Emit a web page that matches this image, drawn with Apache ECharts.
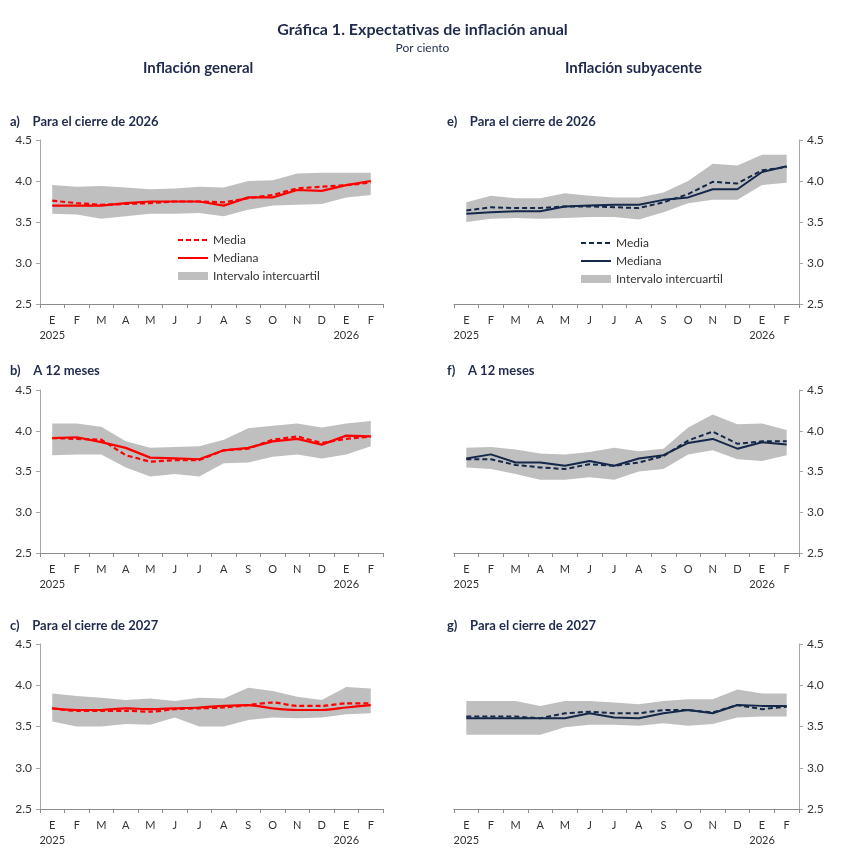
<!DOCTYPE html>
<html>
<head>
<meta charset="utf-8">
<script src="https://cdn.jsdelivr.net/npm/echarts@6/dist/echarts.min.js"></script>
<style>
  html, body { margin: 0; padding: 0; background: #fff; }
  #chart { width: 845px; height: 849px; }
</style>
</head>
<body>
<div id="chart"></div>
<script>
// meses y años del eje x
var months = ['E', 'F', 'M', 'A', 'M', 'J', 'J', 'A', 'S', 'O', 'N', 'D', 'E', 'F'];
var years = ['2025', '', '', '', '', '', '', '', '', '', '', '', '2026', ''];
var yTicks = [2.5, 3.0, 3.5, 4.0, 4.5];

// a) general, cierre de 2026
var aMedia   = [3.76, 3.73, 3.71, 3.72, 3.73, 3.75, 3.75, 3.74, 3.79, 3.83, 3.91, 3.93, 3.95, 3.98];
var aMediana = [3.70, 3.70, 3.70, 3.73, 3.75, 3.75, 3.75, 3.70, 3.80, 3.80, 3.89, 3.88, 3.95, 4.00];
var aLow     = [3.60, 3.59, 3.54, 3.57, 3.60, 3.60, 3.61, 3.57, 3.65, 3.70, 3.71, 3.72, 3.80, 3.83];
var aHigh    = [3.95, 3.93, 3.94, 3.92, 3.90, 3.91, 3.93, 3.92, 4.00, 4.01, 4.09, 4.10, 4.10, 4.10];

// b) general, a 12 meses
var bMedia   = [3.91, 3.90, 3.89, 3.70, 3.62, 3.64, 3.64, 3.76, 3.78, 3.89, 3.93, 3.85, 3.90, 3.93];
var bMediana = [3.91, 3.92, 3.86, 3.79, 3.67, 3.66, 3.65, 3.76, 3.79, 3.87, 3.90, 3.83, 3.94, 3.93];
var bLow     = [3.70, 3.71, 3.71, 3.55, 3.44, 3.47, 3.44, 3.60, 3.61, 3.68, 3.71, 3.66, 3.71, 3.81];
var bHigh    = [4.09, 4.09, 4.05, 3.87, 3.79, 3.80, 3.81, 3.89, 4.03, 4.06, 4.09, 4.04, 4.09, 4.12];

// c) general, cierre de 2027
var cMedia   = [3.72, 3.69, 3.69, 3.69, 3.68, 3.71, 3.72, 3.73, 3.76, 3.79, 3.75, 3.75, 3.78, 3.78];
var cMediana = [3.72, 3.70, 3.70, 3.72, 3.71, 3.72, 3.73, 3.75, 3.76, 3.72, 3.70, 3.70, 3.73, 3.76];
var cLow     = [3.56, 3.50, 3.50, 3.53, 3.52, 3.61, 3.50, 3.50, 3.58, 3.61, 3.60, 3.61, 3.65, 3.66];
var cHigh    = [3.90, 3.87, 3.85, 3.82, 3.84, 3.81, 3.85, 3.84, 3.97, 3.93, 3.86, 3.82, 3.98, 3.96];

// e) subyacente, cierre de 2026
var eMedia   = [3.64, 3.68, 3.67, 3.67, 3.69, 3.69, 3.68, 3.67, 3.74, 3.84, 3.99, 3.97, 4.13, 4.17];
var eMediana = [3.60, 3.62, 3.63, 3.63, 3.69, 3.70, 3.71, 3.71, 3.77, 3.80, 3.90, 3.90, 4.11, 4.18];
var eLow     = [3.50, 3.54, 3.55, 3.54, 3.55, 3.56, 3.56, 3.53, 3.62, 3.73, 3.77, 3.77, 3.95, 3.98];
var eHigh    = [3.74, 3.82, 3.79, 3.79, 3.85, 3.82, 3.80, 3.80, 3.86, 4.00, 4.21, 4.19, 4.32, 4.32];

// f) subyacente, a 12 meses
var fMedia   = [3.65, 3.65, 3.58, 3.55, 3.53, 3.59, 3.57, 3.61, 3.69, 3.88, 3.99, 3.84, 3.87, 3.87];
var fMediana = [3.66, 3.71, 3.61, 3.61, 3.57, 3.63, 3.57, 3.66, 3.70, 3.85, 3.90, 3.78, 3.86, 3.83];
var fLow     = [3.55, 3.53, 3.47, 3.40, 3.40, 3.43, 3.40, 3.50, 3.53, 3.71, 3.76, 3.65, 3.63, 3.70];
var fHigh    = [3.79, 3.80, 3.77, 3.72, 3.71, 3.74, 3.79, 3.75, 3.78, 4.04, 4.20, 4.08, 4.09, 4.01];

// g) subyacente, cierre de 2027
var gMedia   = [3.62, 3.62, 3.62, 3.60, 3.66, 3.68, 3.66, 3.66, 3.70, 3.70, 3.67, 3.76, 3.71, 3.74];
var gMediana = [3.60, 3.60, 3.60, 3.60, 3.60, 3.66, 3.61, 3.60, 3.66, 3.70, 3.66, 3.76, 3.75, 3.75];
var gLow     = [3.40, 3.40, 3.40, 3.40, 3.49, 3.52, 3.52, 3.51, 3.54, 3.51, 3.53, 3.61, 3.62, 3.62];
var gHigh    = [3.81, 3.81, 3.81, 3.75, 3.81, 3.81, 3.79, 3.77, 3.81, 3.83, 3.83, 3.95, 3.90, 3.90];

var RED = '#FF0000';
var NAVY = '#13284A';
var BAND = '#BFBFBF';
var TXT = '#1F2B4D';
var FONT = 'Lato, "Noto Sans", sans-serif';

var grids = [], xAxes = [], yAxes = [], series = [];

function panel(key, side, top, height, color, media, mediana, low, high, smooth) {
    var i = grids.length;
    grids.push({
        left: side == 'left' ? 40 : 454,
        width: side == 'left' ? 343 : 345,
        top: top,
        height: height
    });
    xAxes.push({
        type: 'category',
        gridIndex: i,
        data: months.map(function (m, k) { return m + k; }),
        boundaryGap: true,
        axisLine: { lineStyle: { color: '#8C8C8C', width: 1 } },
        axisTick: { show: true, interval: 0, length: 4, lineStyle: { color: '#8C8C8C' } },
        axisLabel: {
            interval: 0,
            margin: 9,
            fontFamily: FONT,
            fontSize: 11,
            lineHeight: 15,
            color: '#333',
            formatter: function (v, k) {
                return months[k] + (years[k] ? '\n' + years[k] : '');
            }
        },
        splitLine: { show: false }
    });
    yAxes.push({
        type: 'value',
        gridIndex: i,
        position: side,
        min: yTicks[0],
        max: yTicks[yTicks.length - 1],
        interval: 0.5,
        axisLine: { show: true, lineStyle: { color: '#A6A6A6' } },
        axisTick: { show: true, length: 4, lineStyle: { color: '#A6A6A6' } },
        axisLabel: {
            margin: 8,
            fontFamily: FONT,
            fontSize: 12,
            color: '#333',
            formatter: function (v) { return v.toFixed(1); }
        },
        splitLine: { show: false }
    });
    var width = color == RED ? 2.2 : 2;
    series.push({
        name: 'base (' + key + ')',
        type: 'line',
        xAxisIndex: i, yAxisIndex: i,
        stack: 'band' + key,
        data: low,
        symbol: 'none',
        lineStyle: { width: 0, opacity: 0 },
        silent: true
    });
    series.push({
        name: 'Intervalo intercuartil (' + key + ')',
        type: 'line',
        xAxisIndex: i, yAxisIndex: i,
        stack: 'band' + key,
        data: high.map(function (h, k) { return Math.round((h - low[k]) * 100) / 100; }),
        symbol: 'none',
        color: BAND,
        itemStyle: { color: BAND },
        lineStyle: { width: 0, opacity: 0 },
        areaStyle: { color: BAND, opacity: 1 },
        silent: true
    });
    series.push({
        name: 'Media (' + key + ')',
        type: 'line',
        xAxisIndex: i, yAxisIndex: i,
        data: media,
        symbol: 'none',
        smooth: smooth,
        color: color,
        lineStyle: { color: color, width: width, type: [5, 3] },
        silent: true
    });
    series.push({
        name: 'Mediana (' + key + ')',
        type: 'line',
        xAxisIndex: i, yAxisIndex: i,
        data: mediana,
        symbol: 'none',
        smooth: smooth,
        color: color,
        lineStyle: { color: color, width: width },
        silent: true
    });
}

panel('a', 'left', 140, 164, RED, aMedia, aMediana, aLow, aHigh, false);
panel('b', 'left', 390, 163, RED, bMedia, bMediana, bLow, bHigh, false);
panel('c', 'left', 644, 165, RED, cMedia, cMediana, cLow, cHigh, 0.3);
panel('e', 'right', 140, 164, NAVY, eMedia, eMediana, eLow, eHigh, false);
panel('f', 'right', 390, 163, NAVY, fMedia, fMediana, fLow, fHigh, false);
panel('g', 'right', 644, 165, NAVY, gMedia, gMediana, gLow, gHigh, false);

function legendFor(key, left, top) {
    return {
        orient: 'vertical',
        left: left,
        top: top,
        itemWidth: 30,
        itemHeight: 8,
        itemGap: 6,
        selectedMode: false,
        textStyle: { fontFamily: FONT, fontSize: 12, color: '#333' },
        formatter: function (name) { return name.replace(/ \(.\)$/, ''); },
        data: [
            { name: 'Media (' + key + ')', itemStyle: { opacity: 0 } },
            { name: 'Mediana (' + key + ')', itemStyle: { opacity: 0 } },
            { name: 'Intervalo intercuartil (' + key + ')', icon: 'rect' }
        ]
    };
}

function heading(text, left, top) {
    return {
        text: text,
        left: left,
        top: top,
        textStyle: { fontFamily: FONT, fontSize: 13, fontWeight: 'bold', color: TXT }
    };
}

var titles = [
    { text: 'Gráfica 1. Expectativas de inflación anual', left: 'center', top: 22,
      textStyle: { fontFamily: FONT, fontSize: 16, fontWeight: 'bold', color: TXT } },
    { text: 'Por ciento', left: 'center', top: 42,
      textStyle: { fontFamily: FONT, fontSize: 12, fontWeight: 'normal', color: TXT } },
    { text: 'Inflación general', left: 143, top: 61,
      textStyle: { fontFamily: FONT, fontSize: 15, fontWeight: 'bold', color: TXT } },
    { text: 'Inflación subyacente', left: 565, top: 61,
      textStyle: { fontFamily: FONT, fontSize: 15, fontWeight: 'bold', color: TXT } },
    heading('a)    Para el cierre de 2026', 10, 115),
    heading('b)    A 12 meses', 10, 364),
    heading('c)    Para el cierre de 2027', 10, 619),
    heading('e)    Para el cierre de 2026', 447, 115),
    heading('f)    A 12 meses', 447, 364),
    heading('g)    Para el cierre de 2027', 447, 619)
];
titles.forEach(function (t) { t.padding = 0; });

var chart = echarts.init(document.getElementById('chart'), null, { renderer: 'canvas' });
chart.setOption({
    backgroundColor: '#fff',
    animation: false,
    title: titles,
    legend: [legendFor('a', 172, 229), legendFor('e', 575, 232)],
    grid: grids,
    xAxis: xAxes,
    yAxis: yAxes,
    series: series
});
</script>
</body>
</html>
